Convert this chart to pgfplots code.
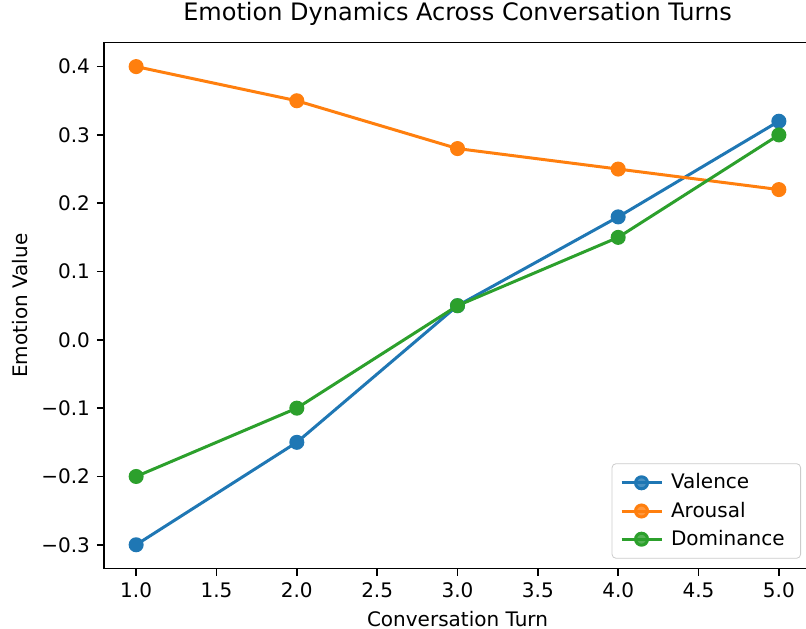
\documentclass[border=0pt]{standalone}
\usepackage{pgfplots}
\pgfplotsset{compat=1.18}
\usepackage{fontspec}
\setmainfont{DejaVu Sans}
\definecolor{tabblue}{HTML}{1F77B4}
\definecolor{taborange}{HTML}{FF7F0E}
\definecolor{tabgreen}{HTML}{2CA02C}
\begin{document}
\fontsize{10}{12}\selectfont
\begin{tikzpicture}
\begin{axis}[
  name=ax,
  width=353.5pt, height=263pt,
  scale only axis,
  xmin=0.8, xmax=5.2,
  ymin=-0.335, ymax=0.435,
  xtick={1,1.5,2,2.5,3,3.5,4,4.5,5},
  xticklabels={1.0,1.5,2.0,2.5,3.0,3.5,4.0,4.5,5.0},
  ytick={-0.3,-0.2,-0.1,0,0.1,0.2,0.3,0.4},
  yticklabels={−0.3,−0.2,−0.1,0.0,0.1,0.2,0.3,0.4},
  tick pos=left,
  tick align=outside,
  major tick length=3.5pt,
  every tick/.style={black, line width=0.8pt},
  axis line style={line width=0.8pt},
  ticklabel style={font=\fontsize{10}{12}\selectfont},
  xlabel={Conversation Turn},
  ylabel={Emotion Value},
  label style={font=\fontsize{10}{12}\selectfont},
  title={Emotion Dynamics Across Conversation Turns},
  title style={font=\fontsize{12}{14}\selectfont, yshift=-1pt},
  legend style={at={(1,0)}, anchor=south east, xshift=-5pt, yshift=5pt,
    draw=black!20, rounded corners=2pt, fill=white, fill opacity=0.8, text opacity=1,
    font=\fontsize{10}{12}\selectfont, row sep=1pt, inner xsep=4pt, inner ysep=3pt,
    nodes={inner xsep=4pt}},
  legend cell align=left,
  legend image code/.code={
    \draw[mark repeat=2,mark phase=2] plot coordinates {(0pt,0pt) (10pt,0pt) (20pt,0pt)};
  },
  every axis plot/.append style={line width=1.5pt, mark=*, mark size=3pt, mark options={solid}},
]
\addplot[color=tabblue] coordinates {(1,-0.30) (2,-0.15) (3,0.05) (4,0.18) (5,0.32)};
\addlegendentry{Valence}
\addplot[color=taborange] coordinates {(1,0.40) (2,0.35) (3,0.28) (4,0.25) (5,0.22)};
\addlegendentry{Arousal}
\addplot[color=tabgreen] coordinates {(1,-0.20) (2,-0.10) (3,0.05) (4,0.15) (5,0.30)};
\addlegendentry{Dominance}
\end{axis}
\pgfresetboundingbox
\path[use as bounding box] ([shift={(-52pt,-30pt)}]ax.south west) rectangle ([shift={(-2.5pt,21.35pt)}]ax.north east);
\end{tikzpicture}
\end{document}
